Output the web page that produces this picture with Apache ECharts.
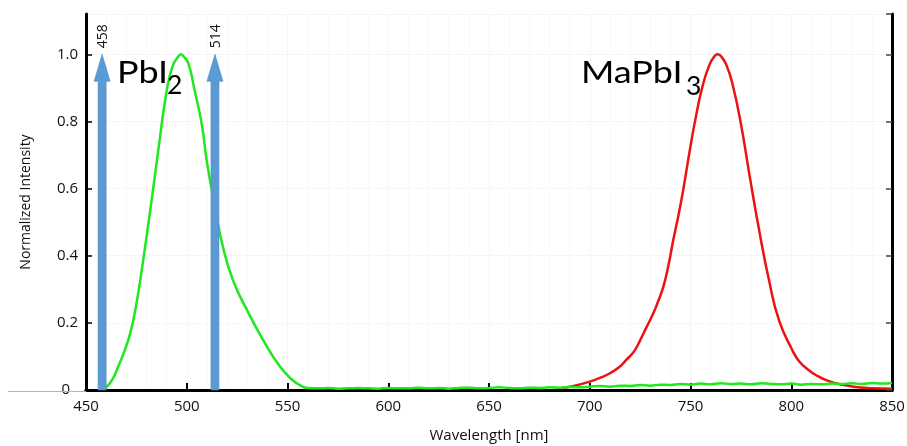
<!DOCTYPE html>
<html>
<head>
<meta charset="utf-8">
<script src="https://cdn.jsdelivr.net/npm/echarts@6/dist/echarts.min.js"></script>
<style>
  html, body { margin: 0; padding: 0; background: #fff; }
  #chart { width: 907px; height: 446px; }
</style>
</head>
<body>
<div id="chart"></div>
<script>
// Photoluminescence spectra, normalized
const xTicks = [450, 500, 550, 600, 650, 700, 750, 800, 850];
const yTicks = [0, 0.2, 0.4, 0.6, 0.8, 1.0];

const pbi2Wavelength = [458, 460, 463, 466, 469, 472, 474.5, 477, 482, 486, 490, 493, 496, 497, 499, 501, 504, 507.5, 510, 514, 518, 523, 530, 538, 546, 552, 556, 560,
  565, 570, 575, 580, 585, 590, 595, 600, 605, 610, 615, 620, 625, 630, 635, 640, 645, 650, 655, 660, 665, 670, 675, 680, 685, 690, 695,
  700, 705, 710, 715, 720, 725, 730, 735, 740, 745, 750, 755, 760, 765, 770, 775, 780, 785, 790, 795, 800, 805, 810, 815, 820, 825, 830,
  835, 840, 845, 850];
const pbi2Intensity = [0.003, 0.008, 0.03, 0.07, 0.115, 0.17, 0.24, 0.33, 0.54, 0.72, 0.89, 0.965, 0.995, 1.0, 0.99, 0.97, 0.89, 0.79, 0.68, 0.545, 0.425, 0.326, 0.237, 0.148, 0.072, 0.032, 0.015, 0.006,
  0.005, 0.006, 0.004, 0.005, 0.006, 0.005, 0.004, 0.006, 0.005, 0.005, 0.007, 0.005, 0.006, 0.004, 0.006, 0.007, 0.005, 0.006, 0.008, 0.006, 0.005, 0.007, 0.006, 0.008, 0.007, 0.009, 0.008,
  0.010, 0.012, 0.010, 0.013, 0.012, 0.015, 0.013, 0.016, 0.015, 0.018, 0.016, 0.019, 0.017, 0.020, 0.018, 0.019, 0.017, 0.020, 0.018, 0.017, 0.019, 0.016, 0.018, 0.017, 0.019, 0.018, 0.020,
  0.018, 0.021, 0.019, 0.021];

const mapbi3Wavelength = [686, 692, 700, 705, 710, 715, 718, 722, 725, 728, 731.5, 734, 736.5, 739, 741.4, 744, 746.3, 749.6, 752.9, 756.2, 759.5, 762, 763.5, 765, 767.7, 770.9,
  775.1, 779.2, 784.1, 789, 793.9, 800.5, 804, 808.7, 813, 817, 822, 827, 833, 840, 850];
const mapbi3Intensity = [0.005, 0.012, 0.025, 0.036, 0.05, 0.07, 0.089, 0.115, 0.148, 0.185, 0.228, 0.265, 0.307, 0.37, 0.445, 0.52, 0.593, 0.712, 0.821, 0.91, 0.97, 0.995, 1.0, 0.995, 0.97, 0.91,
  0.79, 0.643, 0.475, 0.326, 0.208, 0.119, 0.085, 0.059, 0.042, 0.03, 0.02, 0.014, 0.008, 0.005, 0.004];

// Excitation laser lines
const laserWavelength = [458, 514];
const laserHeight = [1.0, 1.0];

const zip = (xs, ys) => xs.map((x, i) => [x, ys[i]]);

const chart = echarts.init(document.getElementById('chart'), null, { renderer: 'canvas' });

const tickFont = { fontFamily: 'Open Sans', fontSize: 15, color: '#111' };
const axisBlack = { show: true, lineStyle: { color: '#000', width: 3 } };

// big compound labels: main formula plus a lowered digit
function formula(main, sub, x, mainBaseline, subX, subBaseline) {
  const mainSize = 31, subSize = 26.5;
  return [{
    type: 'text', x: x, y: mainBaseline - 0.3225 * mainSize, scaleX: 1.16, z: 10,
    style: { text: main, fontFamily: 'Lato', fontSize: mainSize, fill: '#000', verticalAlign: 'middle' }
  }, {
    type: 'text', x: subX, y: subBaseline - 0.3225 * subSize, z: 10,
    style: { text: sub, fontFamily: 'Lato', fontSize: subSize, fill: '#000', verticalAlign: 'middle' }
  }];
}

chart.setOption({
  animation: false,
  backgroundColor: '#fff',
  grid: { left: 86, right: 15, top: 14, bottom: 56, outerBoundsMode: 'none', containLabel: false },
  xAxis: [{
    type: 'value', min: xTicks[0], max: xTicks[xTicks.length - 1], interval: 50,
    name: 'Wavelength [nm]', nameLocation: 'middle', nameGap: 38,
    nameTextStyle: { fontFamily: 'Open Sans', fontSize: 15, color: '#111' },
    axisLine: axisBlack,
    axisTick: { show: true, inside: true, length: 7, lineStyle: { color: '#000', width: 2 } },
    axisLabel: Object.assign({ margin: 9, showMinLabel: true, showMaxLabel: true }, tickFont),
    splitLine: { show: true, lineStyle: { color: '#f5f5f5', width: 1 } },
    minorTick: { show: false, splitNumber: 5 },
    minorSplitLine: { show: true, lineStyle: { color: '#f9f9f9', width: 1 } }
  }, {
    type: 'value', position: 'top', min: xTicks[0], max: xTicks[xTicks.length - 1], interval: 50,
    axisLine: axisBlack, axisTick: { show: false }, axisLabel: { show: false }, splitLine: { show: false }
  }],
  yAxis: [{
    type: 'value', min: 0, max: 1.12, interval: 0.2,
    name: 'Normalized Intensity', nameLocation: 'middle', nameGap: 53,
    nameTextStyle: { fontFamily: 'Open Sans', fontSize: 14, color: '#111' },
    axisLine: axisBlack,
    axisTick: { show: true, inside: true, length: 6, lineStyle: { color: '#000', width: 1.5 } },
    axisLabel: Object.assign({
      margin: 8, showMaxLabel: false,
      formatter: v => {
        const hit = yTicks.find(t => Math.abs(t - v) < 1e-6);
        if (hit === undefined) return '';
        return hit === 0 ? '{z|0}' : hit.toFixed(1);
      },
      rich: { z: { fontFamily: 'Open Sans', fontSize: 15, color: '#111', padding: [0, 8, 0, 0] } }
    }, tickFont),
    splitLine: { show: true, lineStyle: { color: '#f5f5f5', width: 1 } }
  }, {
    type: 'value', position: 'right', min: 0, max: 1.12, interval: 0.2,
    axisLine: axisBlack,
    axisTick: { show: true, inside: true, length: 6, lineStyle: { color: '#444', width: 1.5 } },
    axisLabel: { show: false }, splitLine: { show: false }
  }],
  series: [{
    name: 'PbI2', type: 'line', xAxisIndex: 0, yAxisIndex: 0,
    data: zip(pbi2Wavelength, pbi2Intensity),
    showSymbol: false, smooth: 0.5, z: 3,
    lineStyle: { color: '#1fe81f', width: 2.5 }
  }, {
    name: 'MaPbI3', type: 'line', xAxisIndex: 0, yAxisIndex: 0,
    data: zip(mapbi3Wavelength, mapbi3Intensity),
    showSymbol: false, smooth: 0.5, z: 2,
    lineStyle: { color: '#ee1111', width: 2.5 }
  }, {
    name: 'laser', type: 'custom', xAxisIndex: 0, yAxisIndex: 0, z: 5,
    data: zip(laserWavelength, laserHeight),
    renderItem: (params, api) => {
      const wl = api.value(0);
      const base = api.coord([wl, 0]);
      const tip = api.coord([wl, api.value(1)]);
      const x = base[0];
      const shaftHalf = 4, headHalf = 8, headLen = 27;
      const neck = tip[1] + headLen;
      return {
        type: 'group',
        children: [{
          type: 'polygon',
          shape: { points: [
            [x - shaftHalf, base[1]], [x - shaftHalf, neck], [x - headHalf, neck], [x, tip[1]],
            [x + headHalf, neck], [x + shaftHalf, neck], [x + shaftHalf, base[1]]
          ] },
          style: { fill: '#5b9bd5', stroke: '#4f8cc6', lineWidth: 0.6 }
        }, {
          type: 'text',
          x: x + 1, y: tip[1] - 18, rotation: Math.PI / 2,
          style: { text: String(wl), fontFamily: 'Open Sans', fontSize: 14, fill: '#111', align: 'center', verticalAlign: 'middle' }
        }]
      };
    }
  }],
  graphic: [{
    type: 'line', shape: { x1: 8, y1: 391.5, x2: 86, y2: 391.5 }, style: { stroke: '#b5b5b5', lineWidth: 1 }, z: 1
  }].concat(
    formula('PbI', '2', 117, 82.5, 167, 93.5),
    formula('MaPbI', '3', 581, 82.5, 686, 95)
  )
});
</script>
</body>
</html>
